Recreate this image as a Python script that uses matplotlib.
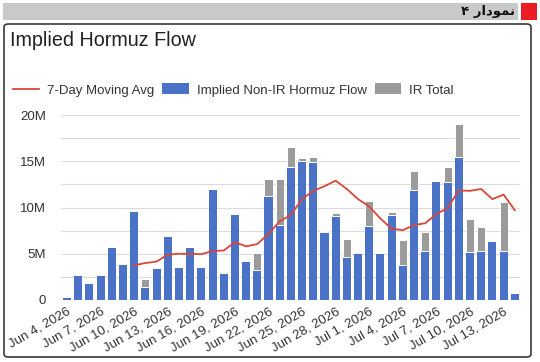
import matplotlib
matplotlib.use("Agg")
import matplotlib.pyplot as plt
from matplotlib.patches import FancyBboxPatch, Rectangle, Patch
from matplotlib.lines import Line2D
import numpy as np
import pandas as pd

# ---- data (millions) ----
dates = pd.date_range("2026-06-04", "2026-07-14", freq="D")
non_ir = [0.25, 2.6, 1.7, 2.6, 5.65, 3.75, 9.5, 1.45, 3.35, 6.8,
          3.5, 5.6, 3.45, 11.9, 2.85, 9.2, 4.1, 3.2, 11.25, 8.15,
          14.4, 15.05, 14.95, 7.3, 9.1, 4.7, 5.0, 8.0, 5.0, 9.2,
          3.75, 11.9, 5.3, 12.75, 12.8, 15.5, 5.15, 5.25, 6.25, 5.3,
          0.65]
ir_total = [0, 0, 0, 0, 0, 0, 0, 0.8, 0, 0,
            0, 0, 0, 0, 0, 0, 0, 1.9, 1.85, 4.9,
            2.1, 0.25, 0.55, 0.2, 0.3, 1.9, 0.0, 2.7, 0, 0.3,
            2.7, 2.05, 2.05, 0, 1.6, 3.5, 3.65, 2.65, 0, 5.3,
            0]
moving_avg = [None, None, None, None, None, None, 3.75, 4.0, 4.15, 4.9,
              5.0, 5.0, 4.95, 5.3, 5.35, 6.25, 5.8, 6.05, 7.15, 8.5,
              9.2, 10.9, 11.8, 12.3, 12.9, 12.0, 10.9, 10.1, 8.8, 7.7,
              7.55, 8.1, 8.3, 9.3, 9.95, 11.85, 11.8, 12.0, 10.9, 11.4,
              9.7]
y_ticks = [0, 5, 10, 15, 20]
y_tick_labels = ["0", "5M", "10M", "15M", "20M"]
title = "Implied Hormuz Flow"
header = "۴ ﺭﺍﺩﻮﻤﻧ"  # "نمودار ۴" in presentation forms, visual order

BLUE = "#4a72c6"
GRAY = "#9b9b9b"
RED = "#d8463c"
TXT = "#333333"

plt.rcParams["font.family"] = ["Liberation Sans", "DejaVu Sans"]

W, H = 540, 362
fig = plt.figure(figsize=(W / 100, H / 100), dpi=100)
fig.patch.set_facecolor("white")

def fx(px):
    return px / W

def fy(py):
    return 1 - py / H

# header bar
fig.patches.append(Rectangle((fx(3), fy(20)), fx(515), 17 / H, transform=fig.transFigure,
                             facecolor="#c8c9cb", edgecolor="none", zorder=-2))
fig.patches.append(Rectangle((fx(521), fy(20)), fx(16), 17 / H, transform=fig.transFigure,
                             facecolor="#ec1c24", edgecolor="none", zorder=-2))
fig.text(fx(515), fy(11.5), header, ha="right", va="center", fontsize=9.5,
         fontweight="bold", family=["DejaVu Sans"], color="#111111")

# chart box
fig.patches.append(FancyBboxPatch((fx(4), fy(357)), fx(527), 333 / H,
                                  boxstyle="round,pad=0,rounding_size=0.008",
                                  transform=fig.transFigure, facecolor="white",
                                  edgecolor="#3a3a3a", linewidth=1.2, zorder=-2))

fig.text(fx(10), fy(40), title, ha="left", va="center", fontsize=14.2, color="#222222")

# axes
ax = fig.add_axes([fx(61.4), fy(300), fx(459), 185 / H])
ax.set_zorder(2)
ax.set_facecolor("none")
x = np.arange(len(dates))
non_ir_arr = np.array(non_ir)
ir_arr = np.array(ir_total)
ma = np.array([np.nan if v is None else v for v in moving_avg])

ax.bar(x, non_ir_arr, width=0.72, color=BLUE, zorder=2, linewidth=0)
mask = ir_arr > 0
ax.bar(x[mask], ir_arr[mask], bottom=non_ir_arr[mask], width=0.72, color=GRAY,
       edgecolor="white", linewidth=0.7, zorder=2)
ax.plot(x, ma, color=RED, linewidth=1.3, zorder=3)

ax.set_xlim(-0.5, len(dates) - 0.5)
ax.set_ylim(0, 20)
grid_vals = np.arange(0, 20.01, 2.5)
ax.set_yticks(grid_vals)
ax.set_yticklabels([y_tick_labels[y_ticks.index(int(v))] if v in y_ticks else ""
                    for v in grid_vals])
ax.yaxis.grid(True, color="#dcdcdc", linewidth=0.8, zorder=0)
ax.set_axisbelow(True)
ax.tick_params(axis="y", length=0, pad=11, labelsize=9.5, labelcolor=TXT)

tick_pos = x[::3]
ax.set_xticks(tick_pos)
ax.set_xticklabels([f"{d:%b} {d.day}, {d.year}" for d in dates[::3]],
                   rotation=30, ha="right", rotation_mode="anchor",
                   fontsize=9.5, color=TXT)
ax.tick_params(axis="x", length=0, pad=4)
for s in ax.spines.values():
    s.set_visible(False)

handles = [Line2D([0], [0], color=RED, linewidth=1.3),
           Patch(facecolor=BLUE, edgecolor="none"),
           Patch(facecolor=GRAY, edgecolor="none")]
labels = ["7-Day Moving Avg", "Implied Non-IR Hormuz Flow", "IR Total"]
fig.legend(handles, labels, loc="center left", bbox_to_anchor=(fx(1), fy(90)),
           ncol=3, frameon=False, fontsize=9.5, handlelength=2.0, handleheight=0.9,
           handletextpad=0.6, columnspacing=0.6, labelcolor=TXT)

fig.savefig("out.png", dpi=100)
